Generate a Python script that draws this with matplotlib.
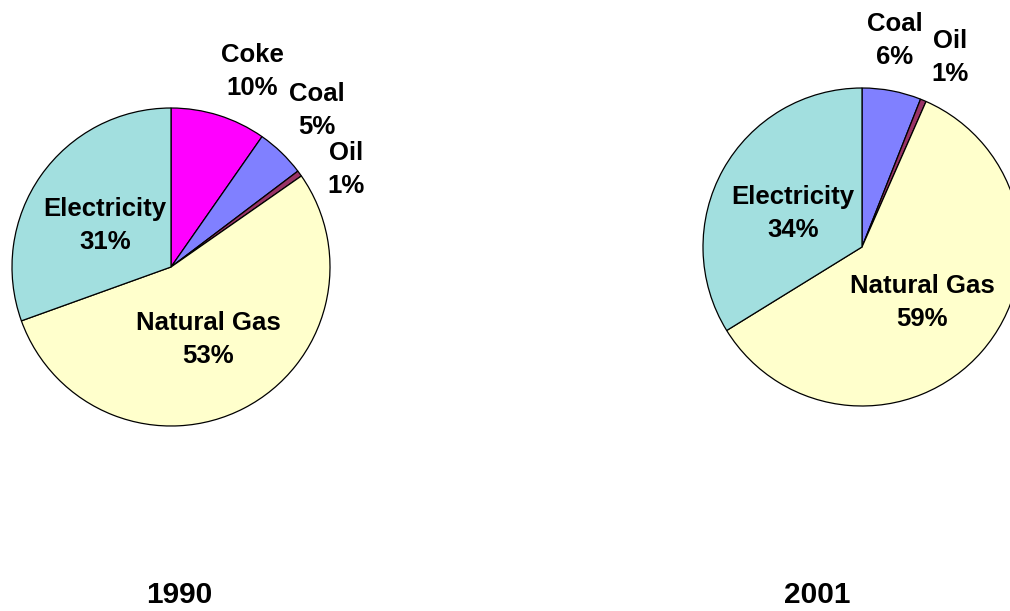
import matplotlib.pyplot as plt

# 1990: wedge sizes, printed percentages as labelled
labels_1990 = ["Coke", "Coal", "Oil", "Natural Gas", "Electricity"]
shares_1990 = [9.7, 5.0, 0.6, 54.2, 30.5]
pct_1990 = [10, 5, 1, 53, 31]

# 2001
labels_2001 = ["Coal", "Oil", "Natural Gas", "Electricity"]
shares_2001 = [6.0, 0.6, 59.6, 33.8]
pct_2001 = [6, 1, 59, 34]

years = ["1990", "2001"]

COLORS = {
    "Coke": "#FF00FF",
    "Coal": "#8080FF",
    "Oil": "#993366",
    "Natural Gas": "#FFFFCC",
    "Electricity": "#A2DFDF",
}

W, H = 1010, 611
FONT = "Liberation Sans"

# layout in pixel coords (top-left origin)
pies = [
    dict(center=(171, 267), r=159, year_xy=(179, 595),
         label_xy={"Coke": (252, 55), "Coal": (317, 94), "Oil": (346, 153),
                   "Electricity": (105, 209), "Natural Gas": (208, 323)}),
    dict(center=(862, 247), r=159, year_xy=(817, 595),
         label_xy={"Coal": (895, 24), "Oil": (950, 41),
                   "Electricity": (793, 197), "Natural Gas": (922, 286)}),
]

fig = plt.figure(figsize=(W / 100, H / 100), dpi=100)
ax = fig.add_axes([0, 0, 1, 1])

datasets = [(labels_1990, shares_1990, pct_1990),
            (labels_2001, shares_2001, pct_2001)]

for (labels, shares, pcts), year, cfg in zip(datasets, years, pies):
    cx, cy = cfg["center"]
    ax.pie(shares, colors=[COLORS[l] for l in labels], startangle=90,
           counterclock=False, center=(cx, H - cy), radius=cfg["r"],
           wedgeprops=dict(edgecolor="black", linewidth=0.9))
    for name, pct in zip(labels, pcts):
        lx, ly = cfg["label_xy"][name]
        ax.text(lx, H - ly, name, ha="center", va="center", fontsize=18.5,
                fontweight="bold", family=FONT)
        ax.text(lx, H - ly - 33, f"{pct}%", ha="center", va="center",
                fontsize=18.5, fontweight="bold", family=FONT)
    yx, yy = cfg["year_xy"]
    ax.text(yx, H - yy, year, ha="center", va="center", fontsize=21.5,
            fontweight="bold", family=FONT)

ax.set_xlim(0, W)
ax.set_ylim(0, H)
ax.set_aspect("auto")
ax.axis("off")

fig.savefig("out.png", dpi=100, facecolor="white")
